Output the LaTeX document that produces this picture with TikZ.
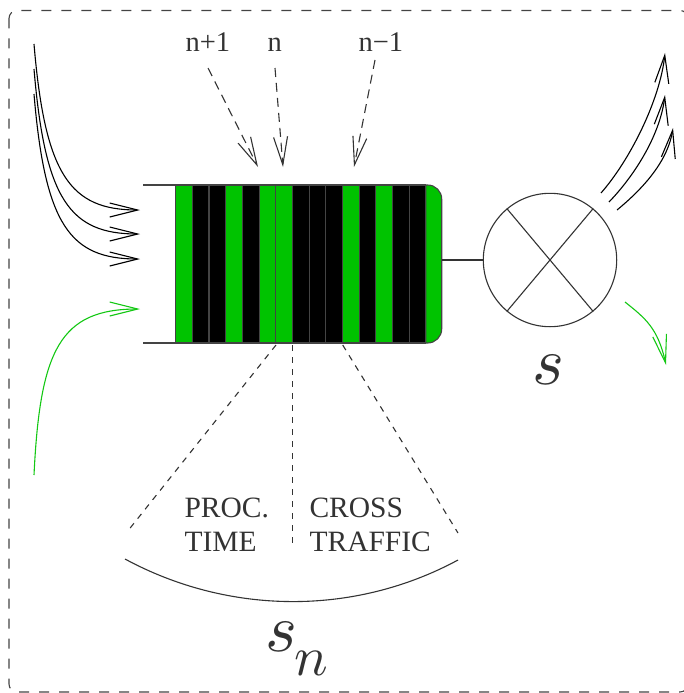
\documentclass[tikz,border=0pt]{standalone}
\usepackage{fix-cm}
\usepackage{fontspec}
\setmainfont{Liberation Serif}
% math italic always from the 10pt design size, scaled
\DeclareFontShape{OML}{cmm}{m}{it}{<->cmmi10}{}
\usetikzlibrary{arrows.meta}
\definecolor{ink}{HTML}{333333}
\definecolor{barline}{HTML}{444444}
\definecolor{pkt}{RGB}{0,195,0}
\definecolor{flow}{RGB}{20,200,20}

\begin{document}
\begin{tikzpicture}[x=1pt,y=-1pt,
  line width=1.1pt,
  arr/.style={-{Straight Barb[length=28pt,width=14pt,line width=1.1pt]}},
  lbl/.style={font=\fontsize{28.5}{32}\selectfont, text=ink, inner sep=0pt, anchor=base west},
  txt/.style={font=\fontsize{29.5}{34}\selectfont, text=ink, inner sep=0pt, anchor=base west},
  bigmath/.style={font=\fontsize{68}{72}\selectfont, text=ink, inner sep=0pt},
  pointer/.style={arr, draw=ink, dash pattern=on 9pt off 6pt},
  split/.style={draw=ink, dash pattern=on 6pt off 6pt}
]
\useasboundingbox (0,0) rectangle (683,693);

% outer dashed frame
\draw[barline, dash pattern=on 10pt off 10pt, rounded corners=8pt] (9,10.5) rectangle (688,692);

% queue: open left end
\draw[barline] (143,185) -- (176,185);
\draw[barline] (143,343) -- (176,343);
% queue slots
\foreach \c [count=\i from 0] in {pkt,black,black,pkt,black,pkt,pkt,black,black,black,pkt,black,pkt,black,black} {
  \filldraw[fill=\c, draw=barline] ({175.7+\i*16.67},185) rectangle ++(16.67,158);
}
% head of the queue, rounded end
\filldraw[fill=pkt, draw=barline] (425.7,185) -- (427.7,185)
  arc[start angle=90, end angle=0, radius=14pt] -- (441.7,329)
  arc[start angle=0, end angle=-90, radius=14pt] -- (425.7,343) -- cycle;
\coordinate (qend) at (441.7,260);

% server
\node[circle, draw=ink, minimum size=133.4pt, inner sep=0pt] (srv) at (550,260) {};
\draw[ink] (srv.130) -- (srv.-50);
\draw[ink] (srv.50) -- (srv.-130);
\draw[ink] (qend) -- (srv.west);
\node[bigmath, anchor=base] (slab) at (548,384) {$s$};

% arrivals
\coordinate (a1) at (34,44);  \coordinate (e1) at (140,210);
\coordinate (a2) at (34,69);  \coordinate (e2) at (140,234);
\coordinate (a3) at (34,94);  \coordinate (e3) at (140,259);
\draw[arr, black] (a1) .. controls (45,175) and (70,210) .. (e1);
\draw[arr, black] (a2) .. controls (45,200) and (70,234) .. (e2);
\draw[arr, black] (a3) .. controls (45,225) and (70,259) .. (e3);
\coordinate (g0) at (34,475); \coordinate (g1) at (140,309);
\draw[arr, flow] (g0) .. controls (40,350) and (60,309) .. (g1);

% departures
\coordinate (d1) at (601,193); \coordinate (f1) at (665,53);
\coordinate (d2) at (609,202); \coordinate (f2) at (665,95);
\coordinate (d3) at (617,210); \coordinate (f3) at (673,128);
\draw[arr, black] (d1) .. controls (630,160) and (660,100) .. (f1);
\draw[arr, black] (d2) .. controls (635,175) and (660,135) .. (f2);
\draw[arr, black] (d3) .. controls (645,187) and (668,160) .. (f3);
\coordinate (gd0) at (625,302); \coordinate (gd1) at (666,365);
\draw[arr, flow] (gd0) .. controls (645,318) and (658,328) .. (gd1);

% packet indices
\node[lbl] (np1) at (185,52) {n+1};
\node[lbl] (n0) at (267,52) {n};
\node[lbl] (nm1) at (358,52) {n−1};
\coordinate (p1) at (208,68);  \coordinate (q1) at (258,167);
\coordinate (p2) at (275,68);  \coordinate (q2) at (283,167);
\coordinate (p3) at (375,60);  \coordinate (q3) at (354,167);
\draw[pointer] (p1) -- (q1);
\draw[pointer] (p2) -- (q2);
\draw[pointer] (p3) -- (q3);

% service time breakdown of packet n
\coordinate (b1) at (276,345);   \coordinate (c1) at (127,532);
\coordinate (b2) at (292.3,345); \coordinate (c2) at (292.3,543);
\coordinate (b3) at (342.7,345); \coordinate (c3) at (458,533);
\draw[split] (b1) -- (c1);
\draw[split] (b2) -- (c2);
\draw[split] (b3) -- (c3);
\node[txt] (pt1) at (184,517) {PROC.};
\node[txt] (pt2) at (184,551) {TIME};
\node[txt] (ct1) at (309,517) {CROSS};
\node[txt] (ct2) at (309,551) {TRAFFIC};

\coordinate (arcL) at (125,559); \coordinate (arcR) at (458,560);
\draw[ink] (arcL) .. controls (228.8,615.1) and (354.2,616.1) .. (arcR);
\node[bigmath, anchor=base west] (snlab) at (265,651)
  {$s$\kern-3pt\raisebox{-24pt}{\fontsize{56}{60}\selectfont$n$}};
\end{tikzpicture}
\end{document}
